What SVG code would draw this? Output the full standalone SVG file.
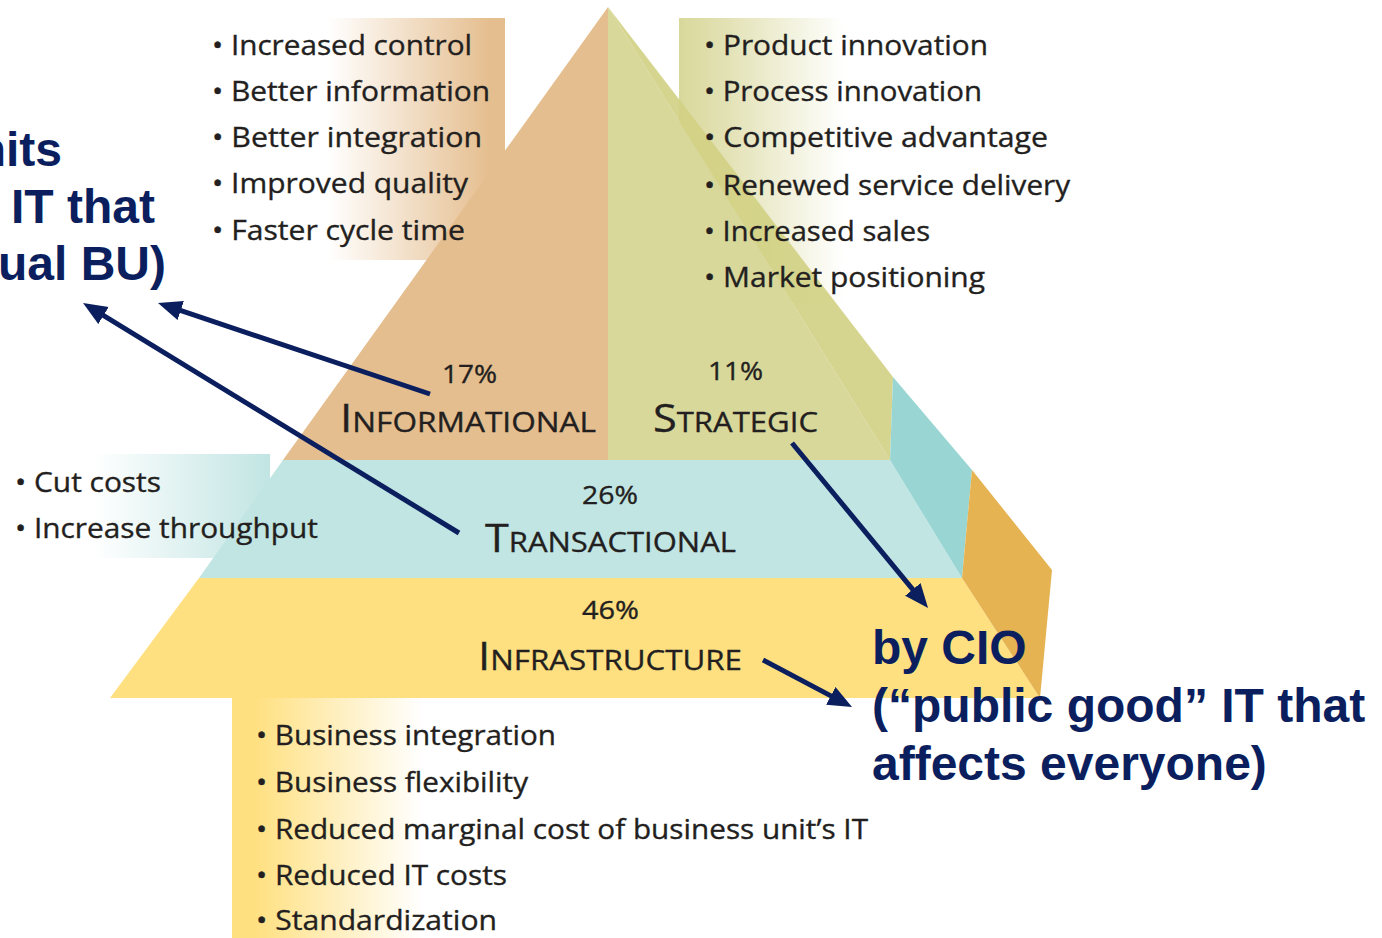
<svg xmlns="http://www.w3.org/2000/svg" width="1382" height="938" viewBox="0 0 1382 938">
<style>
.lst{font-family:"Open Sans","Liberation Sans",Arial,sans-serif;font-size:28px;fill:#231F20;stroke:#231F20;stroke-width:0.35}
.pct{font-family:"Open Sans","Liberation Sans",Arial,sans-serif;font-size:25px;fill:#231F20;stroke:#231F20;stroke-width:0.35}
.cap{font-family:"Open Sans","Liberation Sans",Arial,sans-serif;font-size:39px;fill:#231F20;stroke:#231F20;stroke-width:0.35}
.sc{font-size:28px}
.note{font-family:"Liberation Sans",Arial,sans-serif;font-size:48px;font-weight:bold;fill:#0B1F5F}
.arr{stroke:#0B1F5F;stroke-width:5;fill:none;marker-end:url(#ah)}
</style>
<defs>
<marker id="ah" markerUnits="userSpaceOnUse" markerWidth="26" markerHeight="22" refX="6" refY="10" orient="auto" viewBox="0 0 26 22">
<path d="M0,0 L24,10 L0,20 z" fill="#0B1F5F"/>
</marker>
<linearGradient id="gInfo" x1="0" y1="0" x2="1" y2="0">
<stop offset="0" stop-color="#fff"/><stop offset="0.42" stop-color="#fff"/><stop offset="0.95" stop-color="#E5BE8F"/><stop offset="1" stop-color="#E5BE8F"/>
</linearGradient>
<linearGradient id="gStrat" x1="0" y1="0" x2="1" y2="0">
<stop offset="0" stop-color="#D9D89B"/><stop offset="0.3" stop-color="#E3E2B6"/><stop offset="1" stop-color="#fff"/>
</linearGradient>
<linearGradient id="gTrans" x1="0" y1="0" x2="1" y2="0">
<stop offset="0" stop-color="#fff"/><stop offset="1" stop-color="#C1E5E3"/>
</linearGradient>
<linearGradient id="gInfra" x1="0" y1="0" x2="1" y2="0">
<stop offset="0" stop-color="#FFE081"/><stop offset="0.12" stop-color="#FFE081"/><stop offset="1" stop-color="#fff"/>
</linearGradient>
</defs>
<rect width="1382" height="938" fill="#fff"/>

<g id="note-boxes">
<rect x="200" y="18" width="305" height="242" fill="url(#gInfo)"/>
<rect x="679" y="18" width="165" height="285" fill="url(#gStrat)"/>
<rect x="94" y="454" width="176" height="104" fill="url(#gTrans)"/>
<rect x="232" y="698" width="190" height="240" fill="url(#gInfra)"/>
</g>

<g id="informational">
<polygon points="608,7 608,460 283,460" fill="#E5BE8F"/>
<text class="pct" x="442" y="383" textLength="55" lengthAdjust="spacingAndGlyphs">17%</text>
<text class="cap" x="340" y="432" textLength="256" lengthAdjust="spacingAndGlyphs">I<tspan class="sc">NFORMATIONAL</tspan></text>
</g>

<g id="strategic">
<polygon points="608,7 890,460 608,460" fill="#D9D89B"/>
<polygon points="608,7 893,377 890,460" fill="#D2D083" fill-opacity="0.9"/>
<text class="pct" x="708" y="380" textLength="55" lengthAdjust="spacingAndGlyphs">11%</text>
<text class="cap" x="653" y="432" textLength="165" lengthAdjust="spacingAndGlyphs">S<tspan class="sc">TRATEGIC</tspan></text>
</g>

<g id="transactional">
<polygon points="283,460 890,460 962,578 199,578" fill="#C1E5E3"/>
<polygon points="893,377 972,470 962,578 890,460" fill="#99D5D3"/>
<text class="pct" x="582" y="504" textLength="56" lengthAdjust="spacingAndGlyphs">26%</text>
<text class="cap" x="485" y="552" textLength="251" lengthAdjust="spacingAndGlyphs">T<tspan class="sc">RANSACTIONAL</tspan></text>
</g>

<g id="infrastructure">
<polygon points="199,578 962,578 1040,698 110,698" fill="#FFE081"/>
<polygon points="972,470 1052,570 1040,698 962,578" fill="#E5B351"/>
<text class="pct" x="582" y="619" textLength="57" lengthAdjust="spacingAndGlyphs">46%</text>
<text class="cap" x="478" y="670" textLength="264" lengthAdjust="spacingAndGlyphs">I<tspan class="sc">NFRASTRUCTURE</tspan></text>
</g>

<g id="informational-benefits">
<text class="lst" x="212" y="55" textLength="260" lengthAdjust="spacingAndGlyphs">• Increased control</text>
<text class="lst" x="212" y="101" textLength="278" lengthAdjust="spacingAndGlyphs">• Better information</text>
<text class="lst" x="212" y="147" textLength="270" lengthAdjust="spacingAndGlyphs">• Better integration</text>
<text class="lst" x="212" y="193" textLength="256" lengthAdjust="spacingAndGlyphs">• Improved quality</text>
<text class="lst" x="212" y="240" textLength="253" lengthAdjust="spacingAndGlyphs">• Faster cycle time</text>
</g>

<g id="strategic-benefits">
<text class="lst" x="704" y="55" textLength="284" lengthAdjust="spacingAndGlyphs">• Product innovation</text>
<text class="lst" x="704" y="101" textLength="278" lengthAdjust="spacingAndGlyphs">• Process innovation</text>
<text class="lst" x="704" y="147" textLength="344" lengthAdjust="spacingAndGlyphs">• Competitive advantage</text>
<text class="lst" x="704" y="195" textLength="366" lengthAdjust="spacingAndGlyphs">• Renewed service delivery</text>
<text class="lst" x="704" y="241" textLength="226" lengthAdjust="spacingAndGlyphs">• Increased sales</text>
<text class="lst" x="704" y="287" textLength="281" lengthAdjust="spacingAndGlyphs">• Market positioning</text>
</g>

<g id="transactional-benefits">
<text class="lst" x="15" y="492" textLength="146" lengthAdjust="spacingAndGlyphs">• Cut costs</text>
<text class="lst" x="15" y="538" textLength="303" lengthAdjust="spacingAndGlyphs">• Increase throughput</text>
</g>

<g id="infrastructure-benefits">
<text class="lst" x="256" y="745" textLength="300" lengthAdjust="spacingAndGlyphs">• Business integration</text>
<text class="lst" x="256" y="792" textLength="272" lengthAdjust="spacingAndGlyphs">• Business flexibility</text>
<text class="lst" x="256" y="839" textLength="612" lengthAdjust="spacingAndGlyphs">• Reduced marginal cost of business unit’s IT</text>
<text class="lst" x="256" y="885" textLength="251" lengthAdjust="spacingAndGlyphs">• Reduced IT costs</text>
<text class="lst" x="256" y="930" textLength="241" lengthAdjust="spacingAndGlyphs">• Standardization</text>
</g>

<g id="note-left">
<text class="note" x="62" y="166" text-anchor="end">nits</text>
<text class="note" x="155" y="223" text-anchor="end">IT that</text>
<text class="note" x="166" y="280" text-anchor="end">ual BU)</text>
</g>

<g id="note-right">
<text class="note" x="872" y="664">by CIO</text>
<text class="note" x="872" y="722">(“public good” IT that</text>
<text class="note" x="872" y="780">affects everyone)</text>
</g>

<g id="connectors">
<line class="arr" x1="430" y1="394" x2="175.1" y2="308.7"/>
<line class="arr" x1="459" y1="533" x2="98.4" y2="312.4"/>
<line class="arr" x1="792" y1="443" x2="916.6" y2="594.1"/>
<line class="arr" x1="763" y1="660" x2="836.1" y2="698.6"/>
</g>
</svg>
